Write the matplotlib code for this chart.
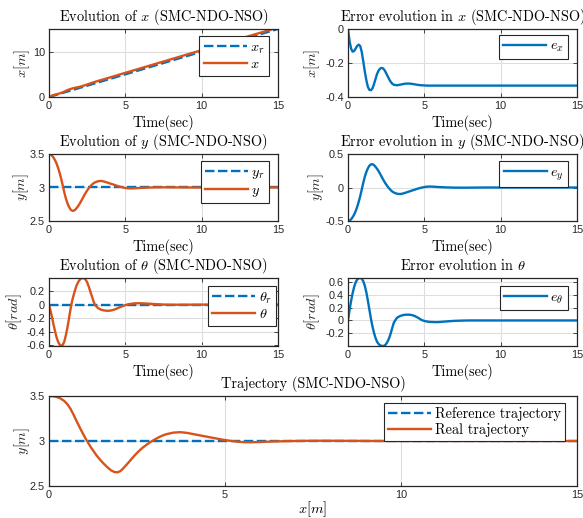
import numpy as np
import matplotlib
matplotlib.use("Agg")
import matplotlib.pyplot as plt

# ---------------- data ----------------
t = [0.0, 0.1, 0.2, 0.3, 0.4, 0.5, 0.6, 0.7, 0.8, 0.9,
     1.0, 1.1, 1.2, 1.3, 1.4, 1.5, 1.6, 1.7, 1.8, 1.9,
     2.0, 2.1, 2.2, 2.3, 2.4, 2.5, 2.6, 2.7, 2.8, 2.9,
     3.0, 3.2, 3.4, 3.6, 3.8, 4.0, 4.2, 4.4, 4.6, 4.8,
     5.0, 5.2, 5.4, 5.6, 5.8, 6.0, 6.5, 7.0, 7.5, 8.0,
     9.0, 10.0, 11.0, 12.0, 13.0, 14.0, 15.0]

# reference x moves at 1 m/s, so x_r equals time at every sample
x_ref = list(t)

e_x = [0.0, -0.07, -0.115, -0.133, -0.13, -0.115, -0.10, -0.092, -0.10, -0.135,
       -0.19, -0.25, -0.30, -0.34, -0.358, -0.36, -0.35, -0.325, -0.295, -0.265,
       -0.245, -0.233, -0.229, -0.232, -0.243, -0.26, -0.278, -0.296, -0.311, -0.322,
       -0.328, -0.331, -0.328, -0.324, -0.321, -0.321, -0.323, -0.326, -0.329, -0.331,
       -0.332, -0.333, -0.333, -0.333, -0.333, -0.333, -0.333, -0.333, -0.333, -0.333,
       -0.333, -0.333, -0.333, -0.333, -0.333, -0.333, -0.333]

y_ref_value = 3.0
y_real = [3.50, 3.495, 3.475, 3.445, 3.405, 3.355, 3.29, 3.215, 3.13, 3.03,
          2.93, 2.84, 2.77, 2.715, 2.675, 2.655, 2.652, 2.665, 2.69, 2.72,
          2.755, 2.795, 2.838, 2.88, 2.92, 2.955, 2.988, 3.015, 3.04, 3.06,
          3.075, 3.093, 3.098, 3.09, 3.075, 3.06, 3.045, 3.03, 3.015, 3.003,
          2.993, 2.987, 2.986, 2.988, 2.991, 2.994, 2.999, 3.002, 3.003, 3.002,
          3.0, 3.0, 3.0, 3.0, 3.0, 3.0, 3.0]

e_y = [-0.50, -0.495, -0.475, -0.445, -0.405, -0.355, -0.29, -0.215, -0.13, -0.03,
       0.07, 0.16, 0.23, 0.285, 0.325, 0.345, 0.348, 0.335, 0.31, 0.28,
       0.245, 0.205, 0.162, 0.12, 0.08, 0.045, 0.012, -0.015, -0.04, -0.06,
       -0.075, -0.093, -0.098, -0.09, -0.075, -0.06, -0.045, -0.03, -0.015, -0.003,
       0.007, 0.013, 0.014, 0.012, 0.009, 0.006, 0.001, -0.002, -0.003, -0.002,
       0.0, 0.0, 0.0, 0.0, 0.0, 0.0, 0.0]

theta_ref_value = 0.0
theta = [0.0, -0.09, -0.19, -0.30, -0.40, -0.49, -0.555, -0.595, -0.61, -0.60,
         -0.55, -0.46, -0.35, -0.22, -0.08, 0.04, 0.13, 0.21, 0.28, 0.33,
         0.365, 0.387, 0.395, 0.39, 0.37, 0.33, 0.27, 0.20, 0.13, 0.06,
         0.0, -0.05, -0.075, -0.087, -0.092, -0.09, -0.08, -0.063, -0.043, -0.024,
         -0.008, 0.005, 0.013, 0.018, 0.02, 0.02, 0.014, 0.006, 0.001, -0.002,
         -0.001, 0.0, 0.0, 0.0, 0.0, 0.0, 0.0]

e_theta = [0.0, 0.16, 0.30, 0.42, 0.52, 0.59, 0.635, 0.655, 0.66, 0.65,
           0.61, 0.54, 0.44, 0.31, 0.17, 0.03, -0.09, -0.19, -0.27, -0.33,
           -0.365, -0.385, -0.395, -0.397, -0.39, -0.365, -0.325, -0.27, -0.20, -0.115,
           -0.035, 0.04, 0.068, 0.083, 0.09, 0.09, 0.083, 0.066, 0.04, 0.01,
           -0.008, -0.018, -0.023, -0.025, -0.026, -0.024, -0.014, -0.006, -0.002, 0.0,
           0.0, 0.0, 0.0, 0.0, 0.0, 0.0, 0.0]

time_ticks = [0, 5, 10, 15]
time_ticklabels = ["0", "5", "10", "15"]

# ---------------- style ----------------
plt.rcParams["mathtext.fontset"] = "cm"
plt.rcParams["font.family"] = ["Liberation Sans", "DejaVu Sans"]
plt.rcParams["axes.unicode_minus"] = False

BLUE = "#0072BD"
ORANGE = "#D95319"
DARK = "#262626"
LW = 1.7
DASH = (4, 1.5)
SERIF = "cmr10"
FS = 10.3

W, H = 583, 518
fig = plt.figure(figsize=(W / 100, H / 100), dpi=100)


def ax_at(l, tp, r, b):
    return fig.add_axes([l / W, 1 - b / H, (r - l) / W, (b - tp) / H])


def style(ax, ylim, yticks, yticklabels, title, ylabel, ylabel_x,
          xlabel="Time(sec)", xlim=(0, 15), xlabelpad=2.5):
    ax.set_xlim(*xlim)
    ax.set_ylim(*ylim)
    ax.set_xticks(time_ticks)
    ax.set_xticklabels(time_ticklabels)
    ax.set_yticks(yticks)
    ax.set_yticklabels(yticklabels)
    ax.tick_params(direction="in", length=3, width=0.6, top=True, right=True,
                   colors=DARK, labelsize=7.8, pad=3)
    for s in ax.spines.values():
        s.set_color(DARK)
        s.set_linewidth(0.9)
    ax.grid(True, color="#dedede", lw=0.8)
    ax.set_axisbelow(True)
    ax.set_title(title, family=SERIF, fontsize=FS, color="black", pad=5.5)
    ax.set_ylabel(ylabel, fontsize=FS, color=DARK, va="center")
    ax.yaxis.set_label_coords(ylabel_x, 0.5)
    ax.set_xlabel(xlabel, family=SERIF, fontsize=FS, color="black", labelpad=xlabelpad)


def leg(ax, right_px, top_px, **kw):
    lg = ax.legend(loc="upper right", bbox_to_anchor=(right_px / W, 1 - top_px / H),
                   bbox_transform=fig.transFigure, borderaxespad=0,
                   fancybox=False, framealpha=1, edgecolor=DARK,
                   handlelength=3.0, handletextpad=0.25, borderpad=0.3,
                   labelspacing=0.12, fontsize=FS, **kw)
    lg.get_frame().set_linewidth(0.8)
    return lg


ta = np.array(t)
x_real = np.array(x_ref) - np.array(e_x)

# Row 1 left: x
ax = ax_at(49, 29, 278, 97)
ax.plot([t[0], t[-1]], [x_ref[0], x_ref[-1]], color=BLUE, lw=LW, dashes=DASH, label="$x_r$")
ax.plot(ta, x_real, color=ORANGE, lw=LW, label="$x$")
style(ax, (0, 15), [0, 10], ["0", "10"],
      "Evolution of $x$ (SMC-NDO-NSO)", "$x[m]$", -0.118)
leg(ax, 269, 36)

# Row 1 right: e_x
ax = ax_at(348, 29, 577, 97)
ax.plot(ta, e_x, color=BLUE, lw=LW, label="$e_x$")
style(ax, (-0.4, 0), [-0.4, -0.2, 0], ["-0.4", "-0.2", "0"],
      "Error evolution in $x$ (SMC-NDO-NSO)", "$x[m]$", -0.157)
leg(ax, 568, 34.5)

# Row 2 left: y
ax = ax_at(49, 154, 278, 221)
ax.plot([t[0], t[-1]], [y_ref_value, y_ref_value], color=BLUE, lw=LW, dashes=DASH, label="$y_r$")
ax.plot(ta, y_real, color=ORANGE, lw=LW, label="$y$")
style(ax, (2.5, 3.5), [2.5, 3, 3.5], ["2.5", "3", "3.5"],
      "Evolution of $y$ (SMC-NDO-NSO)", "$y[m]$", -0.12)
leg(ax, 269, 161)

# Row 2 right: e_y
ax = ax_at(348, 154, 577, 221)
ax.plot(ta, e_y, color=BLUE, lw=LW, label="$e_y$")
style(ax, (-0.5, 0.5), [-0.5, 0, 0.5], ["-0.5", "0", "0.5"],
      "Error evolution in $y$ (SMC-NDO-NSO)", "$y[m]$", -0.137)
leg(ax, 568, 161)

# Row 3 left: theta
ax = ax_at(49, 278, 278, 346)
ax.plot([t[0], t[-1]], [theta_ref_value, theta_ref_value], color=BLUE, lw=LW, dashes=DASH,
        label=r"$\theta_r$")
ax.plot(ta, theta, color=ORANGE, lw=LW, label=r"$\theta$")
style(ax, (-0.615, 0.395), [-0.6, -0.4, -0.2, 0, 0.2],
      ["-0.6", "-0.4", "-0.2", "0", "0.2"],
      r"Evolution of $\theta$ (SMC-NDO-NSO)", r"$\theta[rad]$", -0.153)
leg(ax, 276, 286)

# Row 3 right: e_theta
ax = ax_at(348, 278, 577, 346)
ax.plot(ta, e_theta, color=BLUE, lw=LW, label=r"$e_\theta$")
style(ax, (-0.397, 0.66), [-0.2, 0, 0.2, 0.4, 0.6],
      ["-0.2", "0", "0.2", "0.4", "0.6"],
      r"Error evolution in $\theta$", r"$\theta[rad]$", -0.155)
leg(ax, 568, 286)

# Bottom: trajectory
ax = ax_at(49, 396, 577, 486)
ax.plot([x_ref[0], x_ref[-1]], [y_ref_value, y_ref_value], color=BLUE, lw=LW, dashes=DASH,
        label="Reference trajectory")
ax.plot(x_real, y_real, color=ORANGE, lw=LW, label="Real trajectory")
style(ax, (2.5, 3.5), [2.5, 3, 3.5], ["2.5", "3", "3.5"],
      "Trajectory (SMC-NDO-NSO)", "$y[m]$", -0.051, xlabel="$x[m]$", xlabelpad=-0.5)
leg(ax, 565, 402.5, prop={"family": SERIF, "size": FS})

fig.savefig("out.png", dpi=100)
